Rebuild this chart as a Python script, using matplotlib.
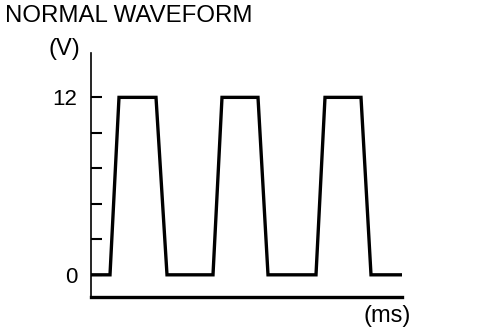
import matplotlib
matplotlib.use('Agg')
import matplotlib.pyplot as plt

# waveform corners (time in ms, arbitrary scale) and voltage
t = [0, 19, 28, 65, 76, 122, 131, 167, 177, 225, 234, 270, 280, 311]
v = [0, 0, 12, 12, 0, 0, 12, 12, 0, 0, 12, 12, 0, 0]
yticks = [0, 2.4, 4.8, 7.2, 9.6, 12]
ylabels = ['0', '', '', '', '', '12']

plt.rcParams['font.family'] = ['Liberation Sans', 'DejaVu Sans']

fig = plt.figure(figsize=(4.96, 3.30), dpi=100)
ax = fig.add_axes([91/496, 0.1, 311/496, 244/330])

ax.plot(t, v, color='black', lw=2.4, solid_joinstyle='miter')
ax.set_xlim(0, 311)
ax.set_ylim(-1.5, 15)

ax.spines['top'].set_visible(False)
ax.spines['right'].set_visible(False)
ax.spines['left'].set_linewidth(1.2)
ax.spines['bottom'].set_linewidth(2.4)

ax.set_xticks([])
ax.set_yticks(yticks)
ax.set_yticklabels(ylabels, fontsize=16)
ax.tick_params(axis='y', direction='in', length=8, width=1.5, pad=10)

fig.text(5/496, 1 - 16/330, 'NORMAL WAVEFORM', fontsize=17.3, va='center', ha='left')
fig.text(64/496, 1 - 49/330, '(V)', fontsize=17, va='center', ha='center')
fig.text(387/496, 1 - 316/330, '(ms)', fontsize=17, va='center', ha='center')

fig.savefig('out.png', dpi=100)
